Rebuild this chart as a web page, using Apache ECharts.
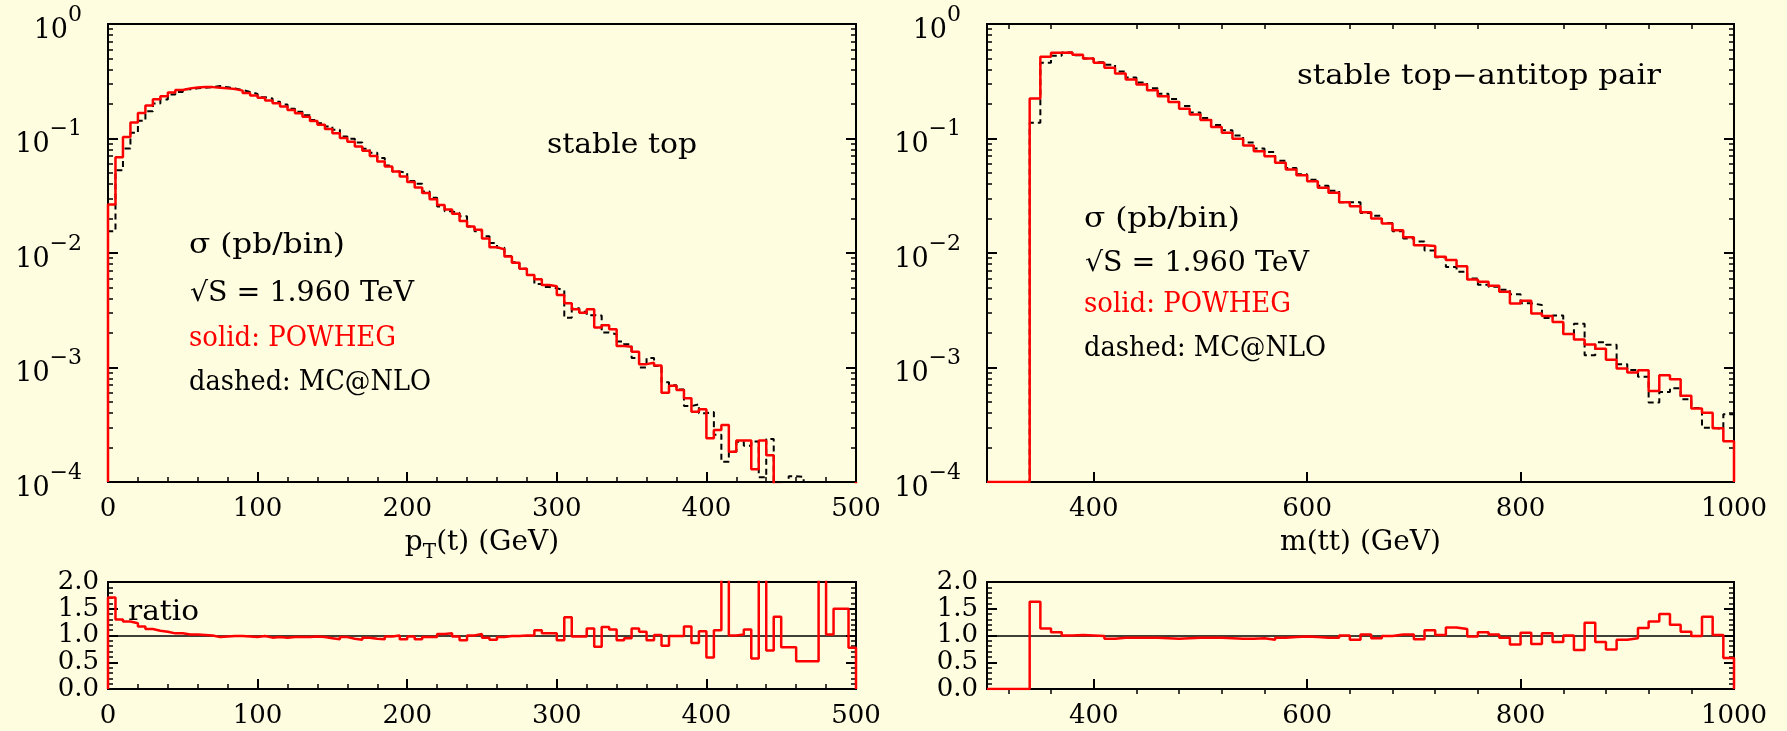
<!DOCTYPE html>
<html><head><meta charset="utf-8">
<script src="https://cdn.jsdelivr.net/npm/echarts@6/dist/echarts.min.js"></script>
<style>html,body{margin:0;padding:0;background:#FFFDE0;}#c{width:1787px;height:731px;}</style>
</head><body><div id="c"></div>
<script>
// ---------------- data ----------------
const ptEdges = [0,5,10,15,20,25,30,35,40,45,50,55,60,65,70,75,80,85,90,95,100,105,110,115,120,125,130,135,140,145,150,155,160,165,170,175,180,185,190,195,200,205,210,215,220,225,230,235,240,245,250,255,260,265,270,275,280,285,290,295,300,305,310,315,320,325,330,335,340,345,350,355,360,365,370,375,380,385,390,395,400,405,410,415,420,425,430,435,440,445,450,455,460,465,470,475,480,485,490,495,500];
const ptPowheg = [
0.0265,0.0685,0.103,0.138,0.167,0.194,0.220,0.234,0.252,0.265,
0.274,0.279,0.281,0.281,0.278,0.274,0.270,0.262,0.250,0.238,
0.227,0.215,0.203,0.190,0.177,0.166,0.155,0.142,0.132,0.121,
0.111,0.101,0.0935,0.0850,0.0782,0.0705,0.0630,0.0570,0.0515,0.0466,
0.0417,0.0374,0.0334,0.0295,0.0263,0.0240,0.0220,0.0190,0.0170,0.0160,
0.0134,0.0112,0.0108,0.0093,0.0082,0.0073,0.00643,0.00589,0.00525,0.00512,
0.0043,0.00364,0.00323,0.00301,0.00323,0.00224,0.00234,0.00216,0.00154,0.00152,
0.00137,0.00107,0.00110,0.00104,0.000603,0.000694,0.000636,0.000538,0.000411,0.000431,
0.000241,0.000285,0.000315,0.000184,0.00023,0.00023,0.000129,0.00023,0.000171,0.0000945,
0.00007,0.0000874,0.0000577,0.0000416,0.0000312,0.00003,0.0000306,0.00003,0.00003,0.000023];
const ptMcnlo = [
0.0155,0.0527,0.0817,0.112,0.143,0.173,0.202,0.219,0.242,0.255,
0.269,0.274,0.278,0.281,0.287,0.280,0.273,0.265,0.255,0.245,
0.229,0.224,0.209,0.198,0.182,0.171,0.160,0.145,0.136,0.127,
0.119,0.104,0.0995,0.0924,0.0815,0.0750,0.0677,0.0582,0.0515,0.0501,
0.0426,0.0402,0.0344,0.0304,0.0255,0.0231,0.0224,0.0209,0.0170,0.0155,
0.0140,0.0122,0.0111,0.0094,0.0083,0.0073,0.00643,0.00535,0.00505,0.00492,
0.00473,0.00272,0.00330,0.00307,0.00286,0.00284,0.00202,0.00195,0.00169,0.00160,
0.00121,0.00100,0.00121,0.00103,0.000744,0.000701,0.000642,0.000460,0.000478,0.000399,
0.000408,0.000259,0.00015,0.000184,0.000225,0.000207,0.000226,0.00011,0.000238,0.00007,
0.00009,0.000112,0.000111,0.00008,0.00006,0.00001,0.00003,0.00002,0.00002,0.00003];
const ptRatio = [
1.71,1.30,1.26,1.23,1.17,1.12,1.09,1.07,1.04,1.04,
1.02,1.02,1.01,1.00,0.97,0.98,0.99,0.99,0.98,0.97,
0.99,0.96,0.97,0.96,0.97,0.97,0.97,0.98,0.97,0.95,
0.93,0.97,0.94,0.92,0.96,0.94,0.93,0.98,1.00,0.93,
0.98,0.93,0.97,0.97,1.03,1.04,0.98,0.91,1.00,1.03,
0.96,0.92,0.97,0.99,0.99,1.00,1.00,1.10,1.04,1.04,
0.91,1.34,0.98,0.98,1.13,0.79,1.16,1.11,0.91,0.95,
1.13,1.07,0.91,1.01,0.81,0.99,0.99,1.17,0.86,1.08,
0.59,1.10,2.10,1.00,1.02,1.11,0.57,2.10,0.72,1.35,
0.78,0.78,0.52,0.52,0.52,3.00,1.02,1.50,1.50,0.77];

const mttEdges = [300,310,320,330,340,350,360,370,380,390,400,410,420,430,440,450,460,470,480,490,500,510,520,530,540,550,560,570,580,590,600,610,620,630,640,650,660,670,680,690,700,710,720,730,740,750,760,770,780,790,800,810,820,830,840,850,860,870,880,890,900,910,920,930,940,950,960,970,980,990,1000];
const mttPowheg = [
0,0,0,0,0.224,0.517,0.560,0.563,0.538,0.500,
0.458,0.414,0.370,0.327,0.296,0.264,0.234,0.208,0.182,0.162,
0.145,0.126,0.112,0.0993,0.0868,0.0775,0.0701,0.0613,0.0536,0.0478,
0.0424,0.0371,0.0336,0.0278,0.0256,0.0227,0.0200,0.0181,0.0158,0.0137,
0.0117,0.0115,0.00927,0.00867,0.00768,0.00587,0.0056,0.00517,0.00459,0.00363,
0.00382,0.00296,0.00281,0.00250,0.00196,0.00176,0.00159,0.00146,0.00117,0.00098,
0.000904,0.000948,0.000622,0.000857,0.000791,0.000566,0.000439,0.000402,0.000295,0.000227];
const mttMcnlo = [
0,0,0,0,0.137,0.458,0.528,0.563,0.533,0.500,
0.463,0.440,0.385,0.341,0.308,0.275,0.246,0.221,0.192,0.169,
0.151,0.131,0.118,0.106,0.0923,0.0816,0.0762,0.0639,0.0553,0.0488,
0.0437,0.0386,0.0350,0.0278,0.0278,0.0223,0.0211,0.0183,0.0155,0.0134,
0.0126,0.0105,0.00918,0.00754,0.00686,0.00599,0.00528,0.00507,0.00478,0.00437,
0.00364,0.00352,0.00270,0.00284,0.00196,0.00241,0.00128,0.00166,0.00158,0.00107,
0.000952,0.000832,0.000494,0.000612,0.000659,0.000529,0.000443,0.000298,0.000292,0.000391];
const mttRatio = [
0,0,0,0,1.63,1.13,1.06,1.00,1.01,1.00,
0.99,0.94,0.96,0.96,0.96,0.96,0.95,0.94,0.95,0.96,
0.96,0.96,0.95,0.94,0.94,0.95,0.92,0.96,0.97,0.98,
0.97,0.96,0.96,1.00,0.92,1.02,0.95,0.99,1.02,1.02,
0.93,1.10,1.01,1.15,1.12,0.98,1.06,1.02,0.96,0.83,
1.05,0.84,1.04,0.88,1.00,0.73,1.24,0.88,0.74,0.92,
0.95,1.14,1.26,1.40,1.20,1.07,0.99,1.35,1.01,0.58];

const mttMajorTicks = [400,600,800,1000];
const mttMinorTicks = [320,360,440,480,520,560,640,680,720,760,840,880,920,960];

// ---------------- style ----------------
const FONT = '"DejaVu Serif", serif';
const BLACK = '#000';
const RED = '#ff0000';
const LOGMIN = 1e-4;

// histogram outline: zero bins sit on the floor, others keep their value (clipped by the frame)
function hist(edges, vals, floor) {
  const n = vals.length;
  const v = i => (vals[i] > 0 ? vals[i] : floor);
  const d = [[edges[0], floor]];
  for (let i = 0; i < n; i++) d.push([edges[i], v(i)]);
  d.push([edges[n], v(n - 1)]);
  d.push([edges[n], floor]);
  return d;
}
const logMinor = [];
for (let e = -4; e < 0; e++) for (let k = 2; k <= 9; k++) logMinor.push(e + Math.log10(k));

const G = [
  {left:108, top:24, width:748, height:458},
  {left:108, top:582, width:748, height:107},
  {left:987, top:24, width:747, height:458},
  {left:987, top:582, width:747, height:107}
].map(g => Object.assign({show:true, borderColor:BLACK, borderWidth:2, backgroundColor:'transparent', containLabel:false, outerBoundsMode:'none'}, g));

const lineS = {show:true, onZero:false, lineStyle:{color:BLACK, width:2}};
const tickMajor = {show:true, inside:true, length:10, lineStyle:{color:BLACK, width:2}};
const tickMinor = {show:true, splitNumber:5, length:5, lineStyle:{color:BLACK, width:1.5}};
const lab = {color:BLACK, fontFamily:FONT, fontSize:26, margin:14, hideOverlap:false, showMinLabel:true, showMaxLabel:true,
  formatter: v => String(v)};
const nameStyle = {rich:{
  a:{fontFamily:FONT, fontSize:28, color:BLACK, lineHeight:34, verticalAlign:'top'},
  s:{fontFamily:FONT, fontSize:20, color:BLACK, lineHeight:20, verticalAlign:'bottom'}}};

function ptX(grid, withName) {
  return {type:'value', gridIndex:grid, min:0, max:500, interval:100, axisLine:lineS, axisTick:tickMajor,
    minorTick:tickMinor, splitLine:{show:false}, minorSplitLine:{show:false}, axisLabel:lab,
    name: withName ? '{a|p}{s|T}{a|(t) (GeV)}' : '', nameLocation:'middle', nameGap:47, nameTextStyle:nameStyle};
}
function mttX(grid, withName) {
  return {type:'value', gridIndex:grid, min:300, max:1000, axisLine:lineS,
    axisTick:Object.assign({}, tickMajor, {customValues:mttMajorTicks}),
    splitLine:{show:false}, axisLabel:Object.assign({}, lab, {customValues:mttMajorTicks}),
    name: withName ? '{a|m(tt) (GeV)}' : '', nameLocation:'middle', nameGap:47, nameTextStyle:nameStyle};
}
function mttXminor(grid) {
  return {type:'value', gridIndex:grid, min:300, max:1000, axisLine:{show:false},
    axisTick:{show:true, inside:true, length:5, lineStyle:{color:BLACK, width:1.5}, customValues:mttMinorTicks},
    axisLabel:{show:false}, splitLine:{show:false}};
}
function logY(grid, pos, labels) {
  return {type:'log', logBase:10, gridIndex:grid, position:pos, min:LOGMIN, max:1, axisLine:lineS,
    axisTick:tickMajor, splitLine:{show:false},
    axisLabel: labels ? {show:true, margin:26, color:BLACK,
      formatter: v => { const e = Math.round(Math.log10(v)); return '{b|10}{s|' + (e < 0 ? '\u2212' + (-e) : String(e)) + '}'; },
      rich:{b:{fontFamily:FONT, fontSize:27, lineHeight:40, verticalAlign:'bottom', color:BLACK},
            s:{fontFamily:FONT, fontSize:22, lineHeight:22, verticalAlign:'top', color:BLACK}}} : {show:false}};
}
function logYminor(grid, pos) {
  return {type:'value', gridIndex:grid, position:pos, min:-4, max:0, axisLine:{show:false},
    axisTick:{show:true, inside:true, length:5, lineStyle:{color:BLACK, width:1.5}, customValues:logMinor},
    axisLabel:{show:false}, splitLine:{show:false}};
}
function ratioY(grid, pos, labels) {
  return {type:'value', gridIndex:grid, position:pos, min:0, max:2, interval:0.5, axisLine:lineS,
    axisTick:tickMajor, minorTick:tickMinor, splitLine:{show:false}, minorSplitLine:{show:false},
    axisLabel: labels ? Object.assign({}, lab, {margin:9, formatter: v => v.toFixed(1)}) : {show:false}};
}

const xAxis = [ptX(0, true), ptX(1, false), mttX(2, true), mttXminor(2), mttX(3, false), mttXminor(3)];
const yAxis = [
  logY(0,'left',true), logY(0,'right',false), logYminor(0,'left'), logYminor(0,'right'),
  ratioY(1,'left',true), ratioY(1,'right',false),
  logY(2,'left',true), logY(2,'right',false), logYminor(2,'left'), logYminor(2,'right'),
  ratioY(3,'left',true), ratioY(3,'right',false)
];

function stepSeries(name, xi, yi, data, color, width, dashed, z, extra) {
  return Object.assign({name, type:'line', xAxisIndex:xi, yAxisIndex:yi, data, step:'end', showSymbol:false,
    symbol:'none', clip:true, z, animation:false,
    lineStyle:{color, width, type: dashed ? [6,4] : 'solid'}}, extra || {});
}
const oneLine = {markLine:{silent:true, symbol:'none', z:2, label:{show:false}, animation:false,
  lineStyle:{color:BLACK, width:1.5, type:'solid'}, data:[{yAxis:1}]}};

const series = [
  stepSeries('MC@NLO', 0, 0, hist(ptEdges, ptMcnlo, LOGMIN), BLACK, 2, true, 3),
  stepSeries('POWHEG', 0, 0, hist(ptEdges, ptPowheg, LOGMIN), RED, 2.5, false, 4),
  stepSeries('ratio', 1, 4, hist(ptEdges, ptRatio, 0), RED, 2.5, false, 4, oneLine),
  stepSeries('MC@NLO', 2, 6, hist(mttEdges, mttMcnlo, LOGMIN), BLACK, 2, true, 3),
  stepSeries('POWHEG', 2, 6, hist(mttEdges, mttPowheg, LOGMIN), RED, 2.5, false, 4),
  stepSeries('ratio', 4, 10, hist(mttEdges, mttRatio, 0), RED, 2.5, false, 4, oneLine)
];

// annotation text, horizontally stretched to the width it has in the original figure
const TFONT = '27px ' + FONT;
const mctx = document.createElement('canvas').getContext('2d');
mctx.font = TFONT;
function txt(x, y, text, color, targetW) {
  const w = mctx.measureText(text).width || targetW;
  return {type:'text', x, y, z:10, scaleX: targetW / w, scaleY: 1,
    style:{text, fill:color || BLACK, font:TFONT, verticalAlign:'middle', align:'left'}};
}
const graphic = [
  txt(547, 146, 'stable top', BLACK, 150),
  txt(189, 246, '\u03c3 (pb/bin)', BLACK, 156),
  txt(190, 294, '\u221aS = 1.960 TeV', BLACK, 224),
  txt(189, 339, 'solid: POWHEG', RED, 207),
  txt(189, 383, 'dashed: MC@NLO', BLACK, 242),
  txt(128, 613, 'ratio', BLACK, 71),
  txt(1297, 77, 'stable top\u2212antitop pair', BLACK, 364),
  txt(1084, 220, '\u03c3 (pb/bin)', BLACK, 156),
  txt(1085, 264, '\u221aS = 1.960 TeV', BLACK, 224),
  txt(1084, 305, 'solid: POWHEG', RED, 207),
  txt(1084, 349, 'dashed: MC@NLO', BLACK, 242)
];

const chart = echarts.init(document.getElementById('c'), null, {renderer:'canvas'});
chart.setOption({
  backgroundColor:'#FFFDE0',
  animation:false,
  grid:G, xAxis, yAxis, series, graphic
});
</script>
</body></html>
